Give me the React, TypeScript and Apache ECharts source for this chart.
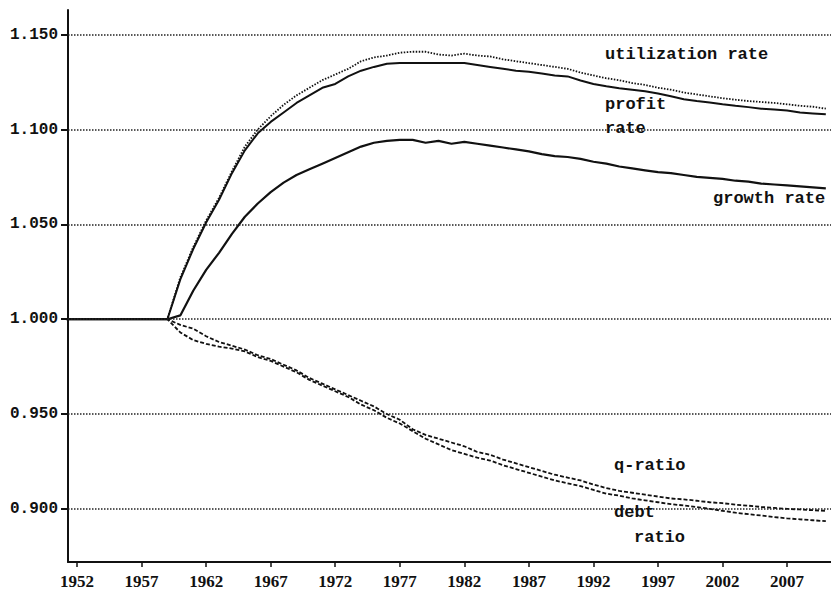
import React, { useEffect, useRef } from "react";
import * as echarts from "echarts";

const years = Array.from({ length: 60 }, (_, i) => 1951 + i);

const utilization = [
  1.0, 1.0, 1.0, 1.0, 1.0, 1.0, 1.0, 1.0, 1.0,
  1.022, 1.038, 1.052, 1.064, 1.078, 1.091, 1.1, 1.107, 1.113, 1.118, 1.122,
  1.126, 1.129, 1.132, 1.136, 1.138, 1.139, 1.1405, 1.141, 1.141, 1.1395,
  1.139, 1.14, 1.139, 1.1385, 1.137, 1.136, 1.135, 1.134, 1.133, 1.132,
  1.13, 1.1285, 1.127, 1.126, 1.1245, 1.1235, 1.122, 1.121, 1.1195, 1.1185,
  1.1175, 1.1165, 1.1157, 1.115, 1.1145, 1.114, 1.1133, 1.1125, 1.112, 1.111,
];

const profit = [
  1.0, 1.0, 1.0, 1.0, 1.0, 1.0, 1.0, 1.0, 1.0,
  1.021, 1.037, 1.051, 1.063, 1.077, 1.089, 1.098, 1.104, 1.109, 1.114, 1.118,
  1.122, 1.124, 1.128, 1.131, 1.133, 1.1347, 1.135, 1.135, 1.135, 1.135,
  1.135, 1.135, 1.134, 1.133, 1.132, 1.131, 1.1305, 1.1295, 1.1285, 1.128,
  1.1258, 1.124, 1.1228, 1.1218, 1.121, 1.1202, 1.119, 1.1175, 1.116, 1.115,
  1.1142, 1.1133, 1.1125, 1.1118, 1.111, 1.1105, 1.11, 1.109, 1.1085, 1.108,
];

const growth = [
  1.0, 1.0, 1.0, 1.0, 1.0, 1.0, 1.0, 1.0, 1.0,
  1.002, 1.015, 1.026, 1.035, 1.045, 1.054, 1.061, 1.067, 1.072, 1.076, 1.079,
  1.082, 1.085, 1.088, 1.091, 1.093, 1.094, 1.0945, 1.0945, 1.093, 1.094,
  1.0925, 1.0935, 1.0925, 1.0915, 1.0905, 1.0895, 1.0885, 1.087, 1.086, 1.0855,
  1.0845, 1.083, 1.082, 1.0805, 1.0795, 1.0785, 1.0775, 1.077, 1.076, 1.075,
  1.0745, 1.074, 1.073, 1.0725, 1.0715, 1.071, 1.0705, 1.07, 1.0695, 1.069,
];

const qRatio = [
  1.0, 1.0, 1.0, 1.0, 1.0, 1.0, 1.0, 1.0, 1.0,
  0.997, 0.995, 0.991, 0.988, 0.986, 0.984, 0.981, 0.979, 0.976, 0.973, 0.969,
  0.966, 0.963, 0.96, 0.957, 0.954, 0.95, 0.947, 0.942, 0.939, 0.937,
  0.935, 0.933, 0.93, 0.9285, 0.926, 0.924, 0.922, 0.92, 0.918, 0.9165,
  0.915, 0.9128, 0.911, 0.9095, 0.9085, 0.9075, 0.9065, 0.9055, 0.905, 0.9043,
  0.9035, 0.903, 0.9022, 0.9017, 0.901, 0.9005, 0.9, 0.8997, 0.8993, 0.899,
];

const debtRatio = [
  1.0, 1.0, 1.0, 1.0, 1.0, 1.0, 1.0, 1.0, 1.0,
  0.993, 0.989, 0.987, 0.9855, 0.9845, 0.983, 0.98, 0.978, 0.975, 0.972, 0.968,
  0.965, 0.962, 0.959, 0.955, 0.952, 0.948, 0.945, 0.941, 0.937, 0.934,
  0.931, 0.929, 0.927, 0.9255, 0.923, 0.921, 0.919, 0.917, 0.915, 0.9135,
  0.912, 0.91, 0.908, 0.907, 0.9055, 0.9045, 0.9035, 0.9025, 0.9018, 0.901,
  0.9, 0.899, 0.898, 0.8972, 0.8965, 0.8957, 0.895, 0.8945, 0.894, 0.8935,
];

const xTickYears = [1952, 1957, 1962, 1967, 1972, 1977, 1982, 1987, 1992, 1997, 2002, 2007];
const yTicks = [0.9, 0.95, 1.0, 1.05, 1.1, 1.15];

const annotations = [
  { text: "utilization rate", x: 605, y: 54 },
  { text: "profit", x: 605, y: 104 },
  { text: "rate", x: 605, y: 128 },
  { text: "growth rate", x: 713, y: 198 },
  { text: "q-ratio", x: 614, y: 465 },
  { text: "debt", x: 614, y: 512 },
  { text: "ratio", x: 634, y: 537 },
];

const pair = (vals: number[]) => years.map((y, i) => [y, vals[i]]);

export default function App() {
  const ref = useRef<HTMLDivElement>(null);
  useEffect(() => {
    document.body.style.margin = "0";
    if (!ref.current) return;
    const chart = echarts.init(ref.current, null, { renderer: "svg" });
    const mono = "'Liberation Mono', 'DejaVu Sans Mono', monospace";
    const ink = "#111";
    chart.setOption({
      animation: false,
      backgroundColor: "#fff",
      grid: { left: 68, right: 0, top: 10, bottom: 32, outerBoundsMode: "none" },
      xAxis: {
        type: "value",
        min: 1951.3,
        max: 2010.4,
        axisLine: { show: true, lineStyle: { color: ink, width: 2 } },
        axisTick: { show: true, customValues: xTickYears, length: 5, lineStyle: { color: ink, width: 1.5 } },
        axisLabel: {
          customValues: xTickYears,
          margin: 11,
          color: ink,
          fontFamily: "Liberation Serif",
          fontWeight: "bold",
          fontSize: 17,
          hideOverlap: false,
          formatter: (v: number) => String(v),
        },
        splitLine: { show: false },
      },
      yAxis: {
        type: "value",
        min: 0.872,
        max: 1.163,
        axisLine: { show: true, lineStyle: { color: ink, width: 2 } },
        axisTick: { show: true, customValues: yTicks, length: 7, lineStyle: { color: ink, width: 2 } },
        axisLabel: {
          customValues: yTicks,
          margin: 10,
          color: ink,
          fontFamily: mono,
          fontWeight: "bold",
          fontSize: 16,
          formatter: (v: number) => v.toFixed(3),
        },
        splitLine: { show: false },
      },
      series: [
        {
          name: "grid",
          type: "line",
          data: [],
          silent: true,
          markLine: {
            silent: true,
            symbol: ["none", "none"],
            label: { show: false },
            lineStyle: { color: "#222", width: 1.5, type: [1.5, 1.5] },
            data: yTicks.map((v) => ({ yAxis: v })),
          },
        },
        {
          name: "utilization rate",
          type: "line",
          showSymbol: false,
          data: pair(utilization),
          lineStyle: { color: ink, width: 1.8, type: [1.5, 1.5] },
        },
        {
          name: "profit rate",
          type: "line",
          showSymbol: false,
          data: pair(profit),
          lineStyle: { color: ink, width: 2, type: "solid" },
        },
        {
          name: "growth rate",
          type: "line",
          showSymbol: false,
          data: pair(growth),
          lineStyle: { color: ink, width: 2.2, type: "solid" },
        },
        {
          name: "q-ratio",
          type: "line",
          showSymbol: false,
          data: pair(qRatio),
          lineStyle: { color: ink, width: 1.8, type: [4, 2] },
        },
        {
          name: "debt ratio",
          type: "line",
          showSymbol: false,
          data: pair(debtRatio),
          lineStyle: { color: ink, width: 1.8, type: [4, 2] },
        },
      ],
      graphic: annotations.map((a) => ({
        type: "text",
        x: a.x,
        y: a.y,
        z: 100,
        style: {
          text: a.text,
          fill: ink,
          font: `bold 17px ${mono}`,
          verticalAlign: "middle",
          align: "left",
        },
      })),
    });
    return () => chart.dispose();
  }, []);
  return <div ref={ref} style={{ width: 831, height: 594 }} />;
}
